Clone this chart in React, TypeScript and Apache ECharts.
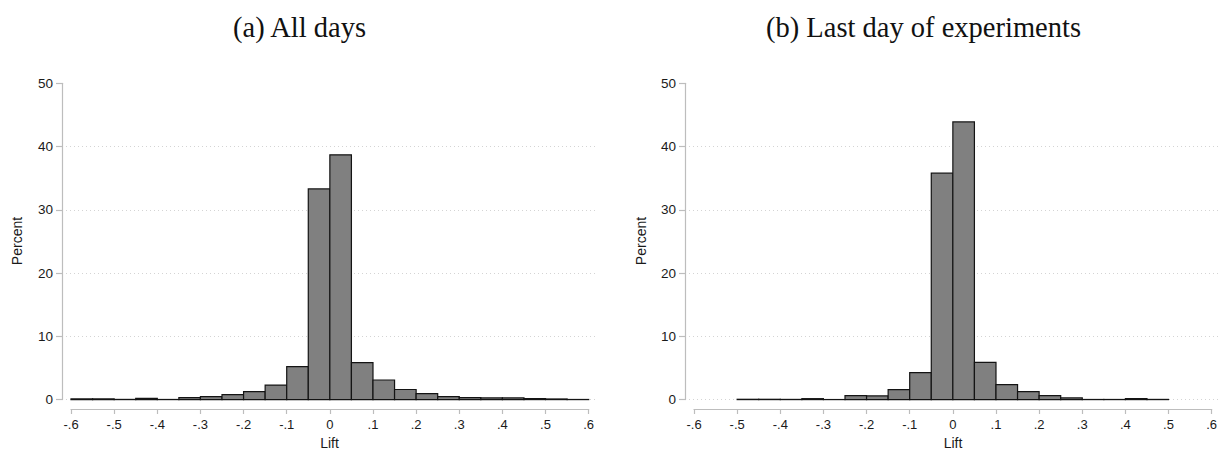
import React, { useEffect, useRef } from "react";
import * as echarts from "echarts";

// ---- Data ----
const titleA = "(a) All days";
const titleB = "(b) Last day of experiments";
const xAxisName = "Lift";
const yAxisName = "Percent";

const binWidth = 0.05;

// Panel (a): bins from -0.6 to 0.6
const binStartsA = [
  -0.6, -0.55, -0.5, -0.45, -0.4, -0.35, -0.3, -0.25, -0.2, -0.15, -0.1, -0.05,
  0.0, 0.05, 0.1, 0.15, 0.2, 0.25, 0.3, 0.35, 0.4, 0.45, 0.5, 0.55,
];
const percentA = [
  0.1, 0.1, 0.03, 0.2, 0.02, 0.3, 0.47, 0.8, 1.26, 2.3, 5.2, 33.3,
  38.7, 5.85, 3.1, 1.6, 0.95, 0.47, 0.32, 0.26, 0.26, 0.16, 0.1, 0.02,
];

// Panel (b): bins from -0.5 to 0.5
const binStartsB = [
  -0.5, -0.45, -0.4, -0.35, -0.3, -0.25, -0.2, -0.15, -0.1, -0.05,
  0.0, 0.05, 0.1, 0.15, 0.2, 0.25, 0.3, 0.35, 0.4, 0.45,
];
const percentB = [
  0.05, 0.05, 0.03, 0.15, 0.01, 0.63, 0.58, 1.58, 4.26, 35.8,
  43.9, 5.9, 2.37, 1.26, 0.63, 0.26, 0.02, 0.02, 0.16, 0.03,
];

const xTickValues = [-0.6, -0.5, -0.4, -0.3, -0.2, -0.1, 0, 0.1, 0.2, 0.3, 0.4, 0.5, 0.6];
const xTickLabels = ["-.6", "-.5", "-.4", "-.3", "-.2", "-.1", "0", ".1", ".2", ".3", ".4", ".5", ".6"];
const yTickLabels = ["0", "10", "20", "30", "40", "50"];

// ---- Styling ----
const axisGray = "#bdbdbd";
const textColor = "#1a1a1a";
const sansFont = "'Liberation Sans', Arial, Helvetica, sans-serif";
const serifFont = "'Liberation Serif', 'DejaVu Serif', serif";

const xMinAxis = -0.6;
const xMaxAxis = 0.6;
const pad = 0.0209;

function tickLabel(v: number): string {
  const idx = xTickValues.findIndex((t) => Math.abs(t - v) < 1e-6);
  return idx >= 0 ? xTickLabels[idx] : "";
}

export default function App() {
  const ref = useRef<HTMLDivElement>(null);

  useEffect(() => {
    if (!ref.current) return;
    const chart = echarts.init(ref.current, null, { renderer: "svg" });

    const panels = [
      { left: 62, starts: binStartsA, values: percentA },
      { left: 685, starts: binStartsB, values: percentB },
    ];
    const plotWidth = 535.7;
    const plotTop = 83.3;
    const plotHeight = 316.3;
    const pxPerUnit = plotWidth / (xMaxAxis - xMinAxis + 2 * pad);
    const axisSpan = (xMaxAxis - xMinAxis) * pxPerUnit;
    const axisOffset = pad * pxPerUnit;

    const grids: any[] = [];
    const xAxes: any[] = [];
    const yAxes: any[] = [];
    const series: any[] = [];

    panels.forEach((p, i) => {
      grids.push({ left: p.left, top: plotTop, width: plotWidth, height: plotHeight, containLabel: false });
      grids.push({ left: p.left + axisOffset, top: 408, width: axisSpan, height: 1, containLabel: false });

      xAxes.push({
        gridIndex: i * 2,
        type: "value",
        min: xMinAxis - pad,
        max: xMaxAxis + pad,
        show: false,
      });
      xAxes.push({
        gridIndex: i * 2 + 1,
        type: "value",
        min: xMinAxis,
        max: xMaxAxis,
        interval: 0.1,
        position: "bottom",
        axisLine: { show: true, onZero: false, lineStyle: { color: axisGray, width: 1.2 } },
        axisTick: { show: true, length: 5, lineStyle: { color: axisGray, width: 1.2 } },
        axisLabel: {
          show: true,
          margin: 9,
          color: textColor,
          fontFamily: sansFont,
          fontSize: 13,
          formatter: (v: number) => tickLabel(v),
        },
        splitLine: { show: false },
      });

      yAxes.push({
        gridIndex: i * 2,
        type: "value",
        min: 0,
        max: 50,
        interval: 10,
        position: "left",
        axisLine: { show: true, onZero: false, lineStyle: { color: axisGray, width: 1.2 } },
        axisTick: { show: true, length: 6, lineStyle: { color: axisGray, width: 1.2 } },
        axisLabel: {
          show: true,
          margin: 9,
          color: textColor,
          fontFamily: sansFont,
          fontSize: 13.5,
          formatter: (v: number) => yTickLabels[Math.round(v / 10)] ?? "",
        },
        splitLine: {
          show: true,
          showMaxLine: false,
          lineStyle: { color: "#d4d4d4", type: [1, 3], width: 1 },
        },
      });
      yAxes.push({
        gridIndex: i * 2 + 1,
        type: "value",
        show: false,
      });

      const data = p.starts.map((s, k) => [s, s + binWidth, p.values[k]]);
      series.push({
        type: "custom",
        xAxisIndex: i * 2,
        yAxisIndex: i * 2,
        data,
        encode: { x: [0, 1], y: 2 },
        z: 3,
        renderItem: (params: any, api: any) => {
          const lo = api.value(0);
          const hi = api.value(1);
          const v = api.value(2);
          const p0 = api.coord([lo, v]);
          const p1 = api.coord([hi, 0]);
          return {
            type: "rect",
            shape: { x: p0[0], y: p0[1], width: p1[0] - p0[0], height: p1[1] - p0[1] },
            style: { fill: "#808080", stroke: "#141414", lineWidth: 1.2 },
          };
        },
      });
    });

    const graphics: any[] = [
      {
        type: "text",
        x: 299.5,
        y: 27,
        style: { text: titleA, font: `28.5px ${serifFont}`, fill: "#111", textAlign: "center", textVerticalAlign: "middle" },
      },
      {
        type: "text",
        x: 923.5,
        y: 27,
        style: { text: titleB, font: `28.5px ${serifFont}`, fill: "#111", textAlign: "center", textVerticalAlign: "middle" },
      },
    ];
    [
      { xLift: 329.5, xPct: 17 },
      { xLift: 953, xPct: 640.5 },
    ].forEach((o) => {
      graphics.push({
        type: "text",
        x: o.xLift,
        y: 443,
        style: { text: xAxisName, font: `14px ${sansFont}`, fill: textColor, textAlign: "center", textVerticalAlign: "middle" },
      });
      graphics.push({
        type: "text",
        x: o.xPct,
        y: 241,
        rotation: Math.PI / 2,
        style: { text: yAxisName, font: `14px ${sansFont}`, fill: textColor, textAlign: "center", textVerticalAlign: "middle" },
      });
    });

    chart.setOption({
      animation: false,
      backgroundColor: "#ffffff",
      grid: grids,
      xAxis: xAxes,
      yAxis: yAxes,
      series,
      graphic: graphics,
    });

    return () => chart.dispose();
  }, []);

  return (
    <div
      ref={ref}
      style={{ position: "absolute", left: 0, top: 0, width: 1225, height: 451, background: "#fff" }}
    />
  );
}
